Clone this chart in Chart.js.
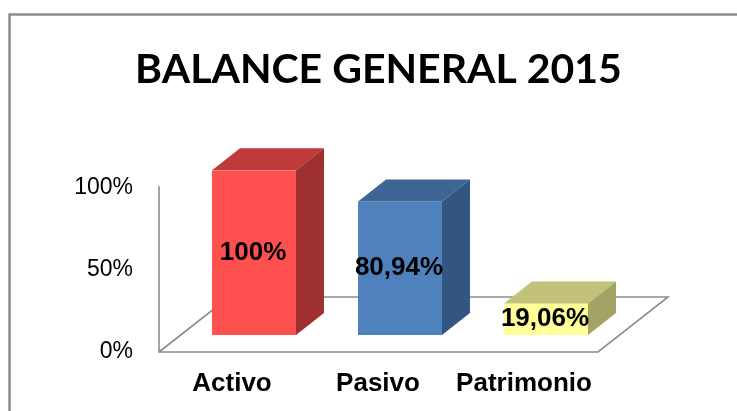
<!DOCTYPE html>
<html>
<head>
<meta charset="utf-8">
<script src="https://cdn.jsdelivr.net/npm/chart.js@4/dist/chart.umd.min.js"></script>
<style>
  html, body { margin: 0; padding: 0; background: #fff; }
  canvas { display: block; }
</style>
</head>
<body>
<canvas id="c" width="737" height="411"></canvas>
<script>
// ---- data ----
const categories = ['Activo', 'Pasivo', 'Patrimonio'];
const values = [100, 80.94, 19.06];
const yTickValues = [0, 50, 100];
const chartTitle = 'BALANCE GENERAL 2015';

// ---- styles ----
const frontColors = ['#FF5050', '#4F81BD', '#FFFF99'];
const topColors = ['#C03A3C', '#3E6594', '#C2C27A'];
const sideColors = ['#9E3030', '#335582', '#A3A366'];

function fmtPct(v) {
  const s = Number.isInteger(v) ? String(v) : v.toFixed(2).replace('.', ',');
  return s + '%';
}

const BAR_DX = 28, BAR_DY = -22;     // bar depth
const FLOOR_DX = 70, FLOOR_DY = -55; // floor depth
const FRONT_SHIFT = 17;              // floor front below bar base

const threeD = {
  id: 'threeD',
  beforeDraw(chart) {
    const ctx = chart.ctx;
    ctx.save();
    ctx.fillStyle = '#fff';
    ctx.fillRect(0, 0, chart.width, chart.height);
    ctx.strokeStyle = '#8a8a8a';
    ctx.lineWidth = 2.5;
    ctx.beginPath();
    ctx.moveTo(9.5, chart.height + 5);
    ctx.lineTo(9.5, 14.5);
    ctx.lineTo(chart.width + 5, 14.5);
    ctx.stroke();
    ctx.restore();
  },
  beforeDatasetsDraw(chart) {
    const ctx = chart.ctx, xs = chart.scales.x, ys = chart.scales.y;
    const y0 = ys.getPixelForValue(0) + FRONT_SHIFT;
    const wallTop = ys.getPixelForValue(ys.max) + FRONT_SHIFT - 1;
    const left = xs.left - 22, right = xs.right - 21;
    ctx.save();
    ctx.strokeStyle = '#8c8c8c';
    ctx.lineWidth = 1.6;
    ctx.beginPath();
    ctx.moveTo(left, wallTop);
    ctx.lineTo(left, y0);
    ctx.lineTo(right, y0);
    ctx.lineTo(right + FLOOR_DX, y0 + FLOOR_DY);
    ctx.lineTo(left + FLOOR_DX, y0 + FLOOR_DY);
    ctx.lineTo(left, y0);
    ctx.stroke();
    ctx.restore();
  },
  afterDatasetsDraw(chart) {
    const ctx = chart.ctx;
    const meta = chart.getDatasetMeta(0);
    ctx.save();
    meta.data.forEach((el, i) => {
      const xl = el.x - el.width / 2, xr = el.x + el.width / 2;
      const yt = el.y, yb = el.base;
      // top face
      ctx.fillStyle = topColors[i];
      ctx.beginPath();
      ctx.moveTo(xl, yt);
      ctx.lineTo(xr, yt);
      ctx.lineTo(xr + BAR_DX, yt + BAR_DY);
      ctx.lineTo(xl + BAR_DX, yt + BAR_DY);
      ctx.closePath();
      ctx.fill();
      // side face
      ctx.fillStyle = sideColors[i];
      ctx.beginPath();
      ctx.moveTo(xr, yt);
      ctx.lineTo(xr + BAR_DX, yt + BAR_DY);
      ctx.lineTo(xr + BAR_DX, yb + BAR_DY);
      ctx.lineTo(xr, yb);
      ctx.closePath();
      ctx.fill();
    });
    // data labels
    ctx.fillStyle = '#000';
    ctx.font = 'bold 26px "Liberation Sans", Arial, sans-serif';
    ctx.textAlign = 'center';
    ctx.textBaseline = 'middle';
    meta.data.forEach((el, i) => {
      ctx.fillText(fmtPct(values[i]), el.x - 1, (el.y + el.base) / 2);
    });
    ctx.restore();
  }
};

new Chart(document.getElementById('c'), {
  type: 'bar',
  data: {
    labels: categories,
    datasets: [{
      data: values,
      backgroundColor: frontColors,
      borderWidth: 0,
      barPercentage: 0.575,
      categoryPercentage: 1
    }]
  },
  options: {
    responsive: false,
    animation: false,
    devicePixelRatio: 1,
    layout: { padding: { left: 20, right: 0, top: 0, bottom: 0 } },
    plugins: {
      legend: { display: false },
      tooltip: { enabled: false },
      title: {
        display: true,
        text: chartTitle,
        color: '#000',
        font: { family: 'Lato', weight: 'bold', size: 41, lineHeight: 1.2 },
        padding: { top: 45, bottom: 76 }
      }
    },
    scales: {
      x: {
        grid: { display: false },
        border: { display: false },
        ticks: {
          color: '#000',
          font: { family: '"Liberation Sans", Arial, sans-serif', weight: 'bold', size: 26 },
          padding: 25,
          labelOffset: -22,
          maxRotation: 0,
          autoSkip: false
        },
        afterFit(s) { s.height = 76; }
      },
      y: {
        min: 0,
        max: 100,
        grid: { display: false },
        border: { display: false },
        afterBuildTicks(s) { s.ticks = yTickValues.map(v => ({ value: v })); },
        ticks: {
          color: '#000',
          font: { family: '"Liberation Sans", Arial, sans-serif', size: 23 },
          padding: 40,
          labelOffset: 17,
          callback: v => v + '%'
        },
        afterFit(s) { s.width = 161; }
      },
      y2: {
        position: 'right',
        display: true,
        grid: { display: false },
        border: { display: false },
        ticks: { display: false },
        afterFit(s) { s.width = 118; }
      }
    }
  },
  plugins: [threeD]
});
</script>
</body>
</html>
